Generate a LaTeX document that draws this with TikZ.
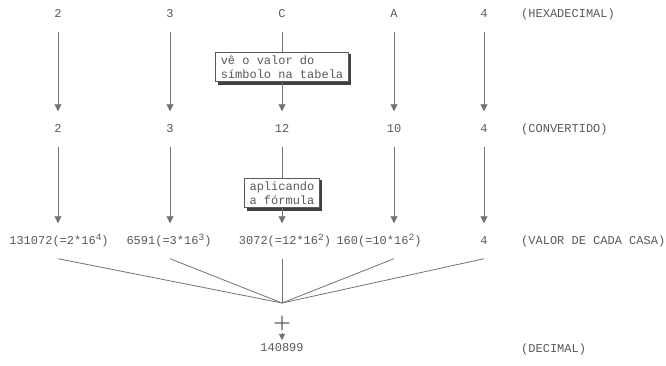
\documentclass[tikz,border=0pt]{standalone}
\usepackage{fontspec}
\setmonofont{Liberation Mono}
\usetikzlibrary{arrows.meta,backgrounds}

\colorlet{ink}{black!65}
\colorlet{wire}{black!55}

\newcommand{\pw}[1]{\raisebox{4pt}{\fontsize{9.5}{9.5}\selectfont #1}}

\tikzset{
  val/.style={font=\ttfamily\fontsize{12}{14}\selectfont, text=ink,
    inner sep=0pt, text height=8pt, text depth=1pt},
  tag/.style={val, anchor=west},
  tbl/.style={font=\ttfamily\fontsize{12}{14.5}\selectfont, text=ink,
    draw=ink, line width=0.8pt, fill=white, align=left,
    inner xsep=5pt, inner ysep=3pt},
  arr/.style={draw=wire, line width=0.8pt,
    -{Triangle[length=7pt,width=7pt]}},
}

\begin{document}
\begin{tikzpicture}[x=1pt,y=-1pt]
      \useasboundingbox (0,0) rectangle (666,365);

      \begin{scope}[every node/.style={val}]
        % hexadecimal digits
        \node (h1) at (58,14)  {2};
        \node (h2) at (170,14) {3};
        \node (h3) at (282,14) {C};
        \node (h4) at (394,14) {A};
        \node (h5) at (484,14) {4};
        % converted digits
        \node (c1) at (58,129)  {2};
        \node (c2) at (170,129) {3};
        \node (c3) at (282,129) {12};
        \node (c4) at (394,129) {10};
        \node (c5) at (484,129) {4};
        % place values
        \node (v1) at (59,241)  {131072(=2*16\pw{4})};
        \node (v2) at (169,241) {6591(=3*16\pw{3})};
        \node (v3) at (285,241) {3072(=12*16\pw{2})};
        \node (v4) at (379,241) {160(=10*16\pw{2})};
        \node (v5) at (484,241) {4};
        % result
        \node (res) at (282,348) {140899};
      \end{scope}

      \begin{scope}[every node/.style={tag}]
        \node (t1) at (521,14)  {(HEXADECIMAL)};
        \node (t2) at (521,129) {(CONVERTIDO)};
        \node (t3) at (521,241) {(VALOR DE CADA CASA)};
        \node (t4) at (521,349) {(DECIMAL)};
      \end{scope}

      \node[tbl] (b1) at (282,67)  {vê o valor do\\símbolo na tabela};
      \node[tbl] (b2) at (282,193) {aplicando\\a fórmula};

      % shadows under the two boxes
      \begin{scope}[on background layer]
        \foreach \b in {b1,b2}
          \fill[black!75] ([shift={(2.5pt,-2.5pt)}]\b.south west)
            rectangle ([shift={(2.5pt,-2.5pt)}]\b.north east);
      \end{scope}

      \node[font=\fontsize{20}{20}\selectfont\bfseries, text=black!75, inner sep=0pt]
        (plus) at (282,324) {+};

      \coordinate (sum) at (282,303);
      \foreach \i in {1,...,5}
        \path (c\i |- v\i.south) ++(0,13) coordinate (f\i);

      \begin{scope}[every edge/.style={arr, shorten <=13pt, shorten >=13pt}]
        \path (h1) edge (c1);
        \path (h2) edge (c2);
        \path (h4) edge (c4);
        \path (h5) edge (c5);
        \path (c1) edge (c1 |- v1.north);
        \path (c2) edge (c2 |- v2.north);
        \path (c4) edge (c4 |- v4.north);
        \path (c5) edge (c5 |- v5.north);
      \end{scope}

      % middle column runs through the two boxes
      \draw[wire, line width=0.8pt, shorten <=13pt] (h3) -- (b1);
      \draw[arr, shorten >=13pt] (b1) -- (c3);
      \draw[wire, line width=0.8pt, shorten <=13pt] (c3) -- (b2);
      \draw[arr, shorten >=13pt] (b2) -- (c3 |- v3.north);

      % all place values meet in the sum
      \foreach \i in {1,...,5}
        \draw[wire, line width=0.8pt] (f\i) -- (sum);
      \draw[draw=wire, -{Triangle[length=6pt,width=6pt]},
        shorten <=9pt, shorten >=8pt] (plus.center) -- (res.center);

    \end{tikzpicture}
\end{document}
